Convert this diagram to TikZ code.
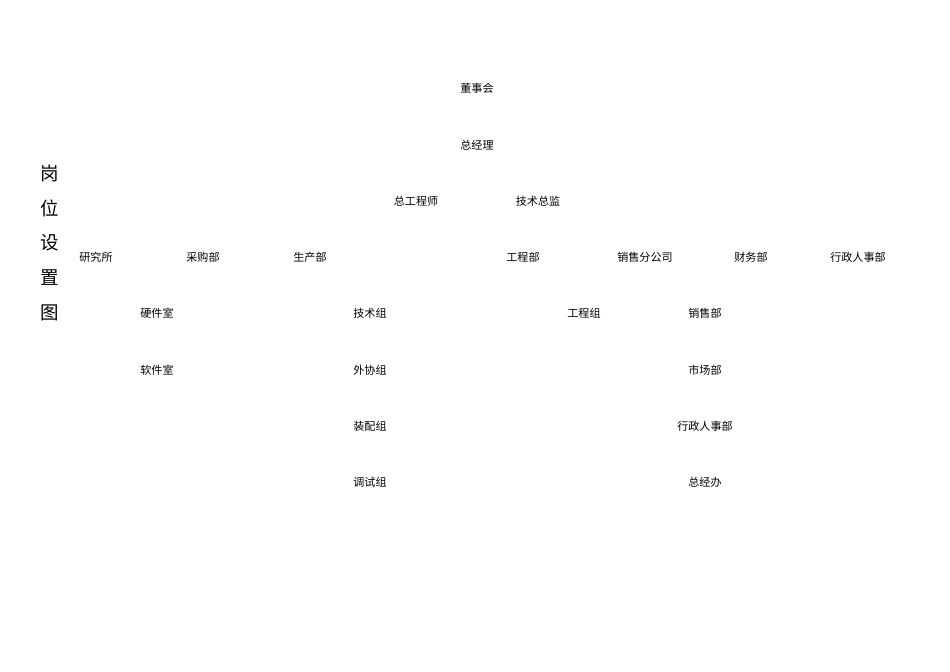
\documentclass[tikz,border=0pt]{standalone}
\usepackage{fontspec}
\usepackage{tikz}
\usetikzlibrary{positioning}
\newfontfamily\cjk{Noto Sans CJK SC}

\begin{document}
\begin{tikzpicture}[x=0.02cm,y=-0.02cm,
                    unit node/.style={font=\cjk\fontsize{6.3}{7}\selectfont,inner sep=0pt},
                    title node/.style={font=\cjk\fontsize{10.5}{12}\selectfont,inner sep=0pt}]

  \useasboundingbox (0,0) rectangle (950,672);

  % title
  \node[title node] (t1) at (50,173) {岗};
  \node[title node] (t2) at (50,208) {位};
  \node[title node] (t3) at (50,243) {设};
  \node[title node] (t4) at (50,278) {置};
  \node[title node] (t5) at (50,313) {图};

  % top
  \node[unit node] (1) at (477,88) {董事会};
  \node[unit node] (2) at (477,145) {总经理};
  \node[unit node] (3) at (416,201) {总工程师};
  \node[unit node] (4) at (538,201) {技术总监};

  % departments
  \node[unit node] (5) at (96,257) {研究所};
  \node[unit node] (6) at (203,257) {采购部};
  \node[unit node] (7) at (310,257) {生产部};
  \node[unit node] (8) at (523,257) {工程部};
  \node[unit node] (9) at (645,257) {销售分公司};
  \node[unit node] (10) at (751,257) {财务部};
  \node[unit node] (11) at (858,257) {行政人事部};

  % groups
  \node[unit node] (12) at (157,313) {硬件室};
  \node[unit node] (13) at (157,370) {软件室};
  \node[unit node] (14) at (370,313) {技术组};
  \node[unit node] (15) at (370,370) {外协组};
  \node[unit node] (16) at (370,426) {装配组};
  \node[unit node] (17) at (370,482) {调试组};
  \node[unit node] (18) at (584,313) {工程组};
  \node[unit node] (19) at (705,313) {销售部};
  \node[unit node] (20) at (705,370) {市场部};
  \node[unit node] (21) at (705,426) {行政人事部};
  \node[unit node] (22) at (705,482) {总经办};

\end{tikzpicture}
\end{document}
